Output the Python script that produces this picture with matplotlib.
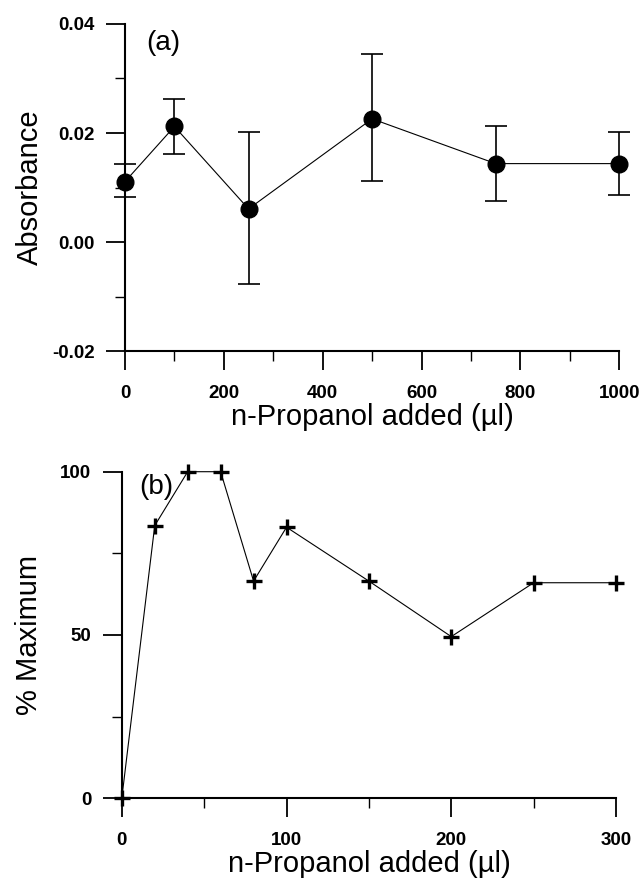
import numpy as np
import matplotlib.pyplot as plt
from matplotlib.ticker import MultipleLocator

plt.rcParams['font.family'] = ['Liberation Sans', 'DejaVu Sans']

# panel (a): absorbance vs n-propanol added
vol_a = [0, 100, 250, 500, 750, 1000]
absorb = [0.0111, 0.0212, 0.0061, 0.0226, 0.0144, 0.0144]
err_lo = [0.0028, 0.0051, 0.0137, 0.0114, 0.0068, 0.0058]
err_hi = [0.0032, 0.0050, 0.0140, 0.0118, 0.0068, 0.0058]

# panel (b): % maximum vs n-propanol added
vol_b = [0, 20, 40, 60, 80, 100, 150, 200, 250, 300]
pct_max = [0, 83.5, 100, 100, 66.5, 83, 66.5, 49.5, 66, 66]


def style_axes(ax):
    ax.spines['top'].set_visible(False)
    ax.spines['right'].set_visible(False)
    ax.spines['left'].set_linewidth(1.5)
    ax.spines['bottom'].set_linewidth(1.5)
    ax.tick_params(which='major', direction='out', length=14, width=1.3)
    ax.tick_params(which='minor', direction='out', length=7, width=1.0)
    ax.tick_params(axis='x', which='major', pad=10)
    ax.tick_params(axis='y', which='major', pad=8)
    for lab in ax.get_xticklabels() + ax.get_yticklabels():
        lab.set_fontsize(13.5)
        lab.set_fontweight('bold')


fig = plt.figure(figsize=(6.41, 8.85), dpi=100)

ax1 = fig.add_axes([0.195, 0.603, 0.771, 0.370])
ax1.errorbar(vol_a, absorb, yerr=[err_lo, err_hi], fmt='o-', color='black',
             ms=12, lw=0.8, elinewidth=1.2, capsize=8, capthick=1.2, clip_on=False)
ax1.set_xlim(0, 1000)
ax1.set_ylim(-0.02, 0.04)
ax1.xaxis.set_major_locator(MultipleLocator(200))
ax1.xaxis.set_minor_locator(MultipleLocator(100))
ax1.yaxis.set_major_locator(MultipleLocator(0.02))
ax1.yaxis.set_minor_locator(MultipleLocator(0.01))
ax1.yaxis.set_major_formatter(plt.FormatStrFormatter('%.2f'))
ax1.set_xlabel('n-Propanol added (\u00b5l)', fontsize=21, labelpad=1)
ax1.set_ylabel('Absorbance', fontsize=21, labelpad=6)
ax1.text(77, 0.0365, '(a)', fontsize=20, ha='center', va='center')
style_axes(ax1)

ax2 = fig.add_axes([0.190, 0.098, 0.771, 0.369])
ax2.plot(vol_b, pct_max, '+-', color='black', ms=11, mew=2.4, lw=0.8, clip_on=False)
ax2.set_xlim(0, 300)
ax2.set_ylim(0, 100)
ax2.xaxis.set_major_locator(MultipleLocator(100))
ax2.xaxis.set_minor_locator(MultipleLocator(50))
ax2.yaxis.set_major_locator(MultipleLocator(50))
ax2.yaxis.set_minor_locator(MultipleLocator(25))
ax2.set_xlabel('n-Propanol added (\u00b5l)', fontsize=21, labelpad=1)
ax2.set_ylabel('% Maximum', fontsize=21, labelpad=12)
ax2.text(21, 95.4, '(b)', fontsize=20, ha='center', va='center')
style_axes(ax2)

fig.savefig('out.png', dpi=100)
